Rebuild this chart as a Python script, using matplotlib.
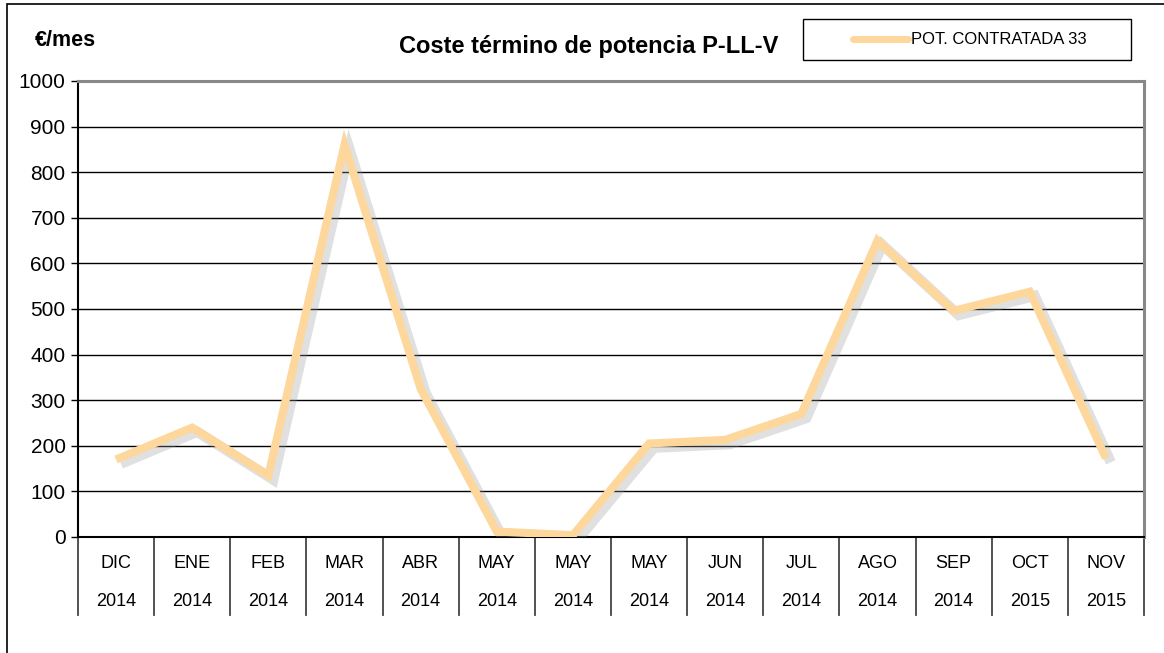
import matplotlib
matplotlib.use("Agg")
import matplotlib.pyplot as plt
import matplotlib.patheffects as pe
from matplotlib.patches import Rectangle
from matplotlib import font_manager

months = ["DIC", "ENE", "FEB", "MAR", "ABR", "MAY", "MAY", "MAY", "JUN", "JUL", "AGO", "SEP", "OCT", "NOV"]
years = ["2014", "2014", "2014", "2014", "2014", "2014", "2014", "2014", "2014", "2014", "2014", "2014", "2015", "2015"]
values = [170, 240, 135, 860, 325, 12, 4, 205, 213, 270, 650, 496, 538, 173]
series_name = "POT. CONTRATADA 33"
yticks = list(range(0, 1001, 100))

names = {f.name for f in font_manager.fontManager.ttflist}
narrow = "Liberation Sans Narrow" if "Liberation Sans Narrow" in names else "Liberation Sans"
plt.rcParams['font.family'] = ['Liberation Sans', 'DejaVu Sans']

W, H = 1164, 653
fig = plt.figure(figsize=(W / 100, H / 100), dpi=100)

# outer frame
fig.patches.append(Rectangle((7 / W, -0.05), 1.1, 1 - 4 / H + 0.05, transform=fig.transFigure,
                             fill=False, edgecolor='black', linewidth=1.2))

L, R, T, B = 78, 1144, 81, 537
ax = fig.add_axes([L / W, 1 - B / H, (R - L) / W, (B - T) / H])
n = len(values)
x = list(range(n))
ax.set_xlim(-0.5, n - 0.5)
ax.set_ylim(0, 1000)

for v in yticks[1:-1]:
    ax.axhline(v, color='black', linewidth=1.0, zorder=1)

line_color = '#FDD79B'
ax.plot(x, values, color=line_color, linewidth=5.8, solid_joinstyle='miter', solid_capstyle='butt',
        zorder=3, label=series_name,
        path_effects=[pe.SimpleLineShadow(offset=(3.5, -3), shadow_color='#999999', alpha=0.3,
                                          linewidth=7.5),
                      pe.Normal()])

ax.spines['top'].set_color('#888888')
ax.spines['top'].set_linewidth(2.2)
ax.spines['right'].set_color('#888888')
ax.spines['right'].set_linewidth(2.2)
ax.spines['left'].set_color('black')
ax.spines['left'].set_linewidth(1.5)
ax.spines['bottom'].set_color('black')
ax.spines['bottom'].set_linewidth(1.5)

ax.set_yticks(yticks)
ax.set_yticklabels([str(v) for v in yticks], fontsize=15)
ax.tick_params(axis='y', direction='out', length=5, width=1, pad=4, colors='black')
ax.set_xticks([])

# category table
tr = ax.get_xaxis_transform()
bottom_y = -(615 - B) / (B - T)
for i in range(n + 1):
    ax.plot([i - 0.5, i - 0.5], [0, bottom_y], transform=tr, color='#444444', linewidth=1.3, clip_on=False)
for i in range(n):
    ax.text(i, -(563 - B) / (B - T), months[i], transform=tr, ha='center', va='center',
            fontsize=13, family=[narrow, 'DejaVu Sans'])
    ax.text(i, -(602 - B) / (B - T), years[i], transform=tr, ha='center', va='center',
            fontsize=13, family=[narrow, 'DejaVu Sans'])

fig.text(35 / W, 1 - 41 / H, "€/mes", fontsize=15.5, fontweight='bold', ha='left', va='center')
fig.text(589 / W, 1 - 46 / H, "Coste término de potencia P-LL-V", fontsize=17, fontweight='bold',
         ha='center', va='center')

# legend box
fig.patches.append(Rectangle((803 / W, 1 - 60 / H), 328 / W, 41 / H, transform=fig.transFigure,
                             fill=False, edgecolor='black', linewidth=1.0))
leg = fig.legend(loc='center', bbox_to_anchor=(970 / W, 1 - 40 / H), frameon=False,
                 handlelength=3.3, handletextpad=0.15, prop={'family': narrow, 'size': 12})
for h in leg.get_lines():
    h.set_path_effects([])
    h.set_linewidth(5)
    h.set_solid_capstyle('round')

fig.savefig("out.png", dpi=100)
